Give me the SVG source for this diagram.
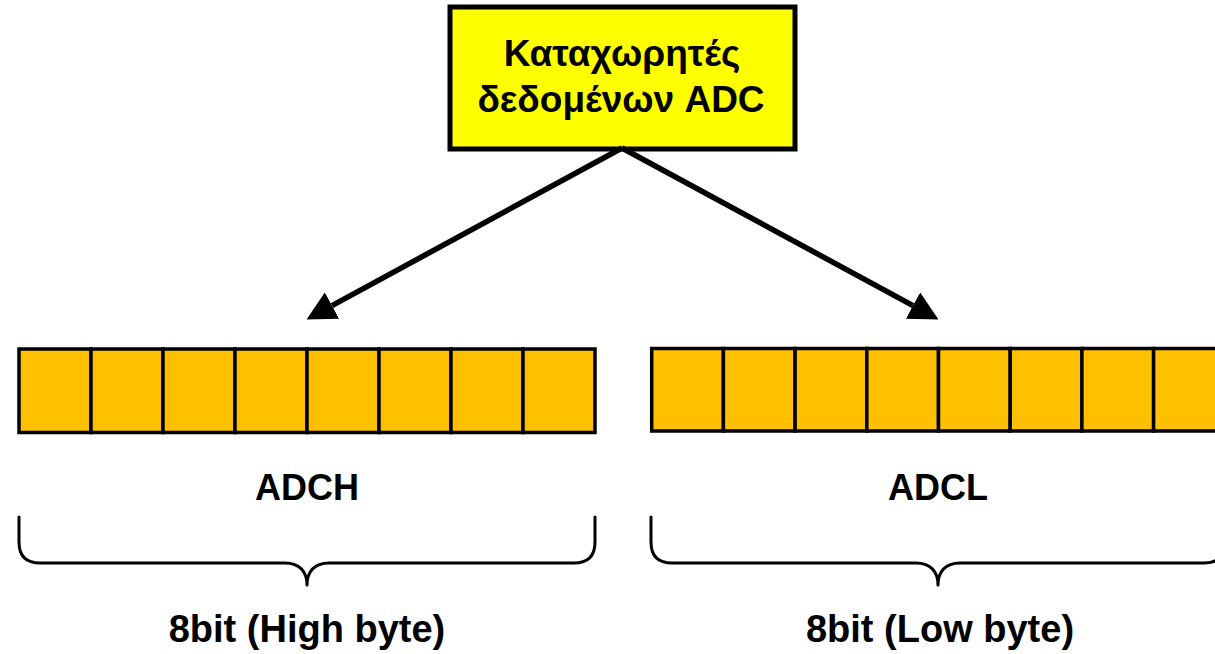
<svg xmlns="http://www.w3.org/2000/svg" width="1215" height="654" viewBox="0 0 1215 654">
  <defs>
    <style>
      .title { font-family: "Liberation Sans", Arial, sans-serif; font-weight: bold; font-size: 37px; fill: #000; text-anchor: middle; }
      .label { font-family: "Liberation Sans", Arial, sans-serif; font-weight: bold; font-size: 36px; fill: #000; text-anchor: middle; }
      .note { font-family: "Liberation Sans", Arial, sans-serif; font-weight: bold; font-size: 38px; fill: #000; text-anchor: middle; }
      .cell { fill: #FFC000; stroke: #000; stroke-width: 3.5; }
      .brace { fill: none; stroke: #000; stroke-width: 3; stroke-linecap: round; stroke-linejoin: round; }
      .conn { stroke: #000; stroke-width: 5.5; fill: none; }
    </style>
    <marker id="head" viewBox="0 0 29 30" refX="0" refY="15" markerWidth="29" markerHeight="30" markerUnits="userSpaceOnUse" orient="auto">
      <path d="M0,0 L29,15 L0,30 Z" fill="#000"/>
    </marker>
  </defs>

  <!-- ADC data register block -->
  <g id="adc-data">
    <rect x="450" y="7" width="345" height="142" fill="#FFFF00" stroke="#000" stroke-width="5"/>
    <text class="title" x="622" y="66">Καταχωρητές</text>
    <text class="title" x="621" y="112">δεδομένων ADC</text>
  </g>

  <!-- arrows to both byte registers -->
  <g id="connectors">
    <line class="conn" x1="622" y1="148" x2="332" y2="305.6" marker-end="url(#head)"/>
    <line class="conn" x1="622" y1="148" x2="913" y2="305.6" marker-end="url(#head)"/>
  </g>

  <!-- high byte register -->
  <g id="adch">
    <rect class="cell" x="19" y="349" width="72" height="83.5"/>
    <rect class="cell" x="91" y="349" width="72" height="83.5"/>
    <rect class="cell" x="163" y="349" width="72" height="83.5"/>
    <rect class="cell" x="235" y="349" width="72" height="83.5"/>
    <rect class="cell" x="307" y="349" width="72" height="83.5"/>
    <rect class="cell" x="379" y="349" width="72" height="83.5"/>
    <rect class="cell" x="451" y="349" width="72" height="83.5"/>
    <rect class="cell" x="523" y="349" width="72" height="83.5"/>
    <text class="label" x="307" y="500">ADCH</text>
    <path class="brace" d="M19,517 V542 Q19,563 40,563 H285 C300,563 307,572 307,585 C307,572 314,563 329,563 H574 Q595,563 595,542 V517"/>
    <text class="note" x="307" y="642">8bit (High byte)</text>
  </g>

  <!-- low byte register -->
  <g id="adcl">
    <rect class="cell" x="651.7" y="348.5" width="71.7" height="82.5"/>
    <rect class="cell" x="723.4" y="348.5" width="71.7" height="82.5"/>
    <rect class="cell" x="795.1" y="348.5" width="71.7" height="82.5"/>
    <rect class="cell" x="866.8" y="348.5" width="71.7" height="82.5"/>
    <rect class="cell" x="938.5" y="348.5" width="71.7" height="82.5"/>
    <rect class="cell" x="1010.2" y="348.5" width="71.7" height="82.5"/>
    <rect class="cell" x="1081.9" y="348.5" width="71.7" height="82.5"/>
    <rect class="cell" x="1153.6" y="348.5" width="71.7" height="82.5"/>
    <text class="label" x="938" y="500">ADCL</text>
    <path class="brace" d="M651,517 V542 Q651,563 672,563 H916 C931,563 938,572 938,585 C938,572 945,563 960,563 H1204 Q1225,563 1225,542 V517"/>
    <text class="note" x="940" y="642">8bit (Low byte)</text>
  </g>
</svg>
